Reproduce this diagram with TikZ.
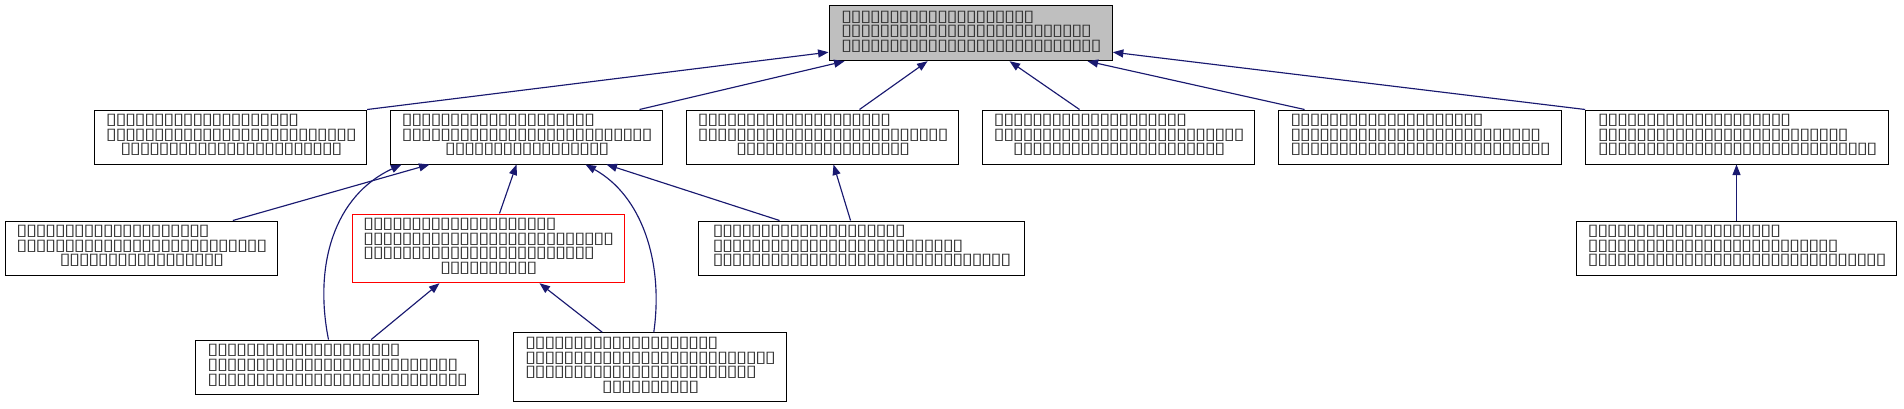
\documentclass[tikz,border=0pt]{standalone}
\usepackage{fontspec}
\usetikzlibrary{arrows.meta}
\newfontfamily\bxfont[FakeStretch=1.25]{DejaVu Sans}
\definecolor{edgec}{HTML}{191970}
\definecolor{topfill}{HTML}{BFBFBF}
\definecolor{glyphc}{HTML}{303030}
\newcount\bxcnt
\newcommand\bxr[1]{\bxcnt=#1\relax\bxloop}
\def\bxloop{\ifnum\bxcnt>0 \makebox[9.6pt][l]{\smash{▯}}\advance\bxcnt by -1 \expandafter\bxloop\fi}
\newcommand\bxc[1]{\multicolumn{1}{@{}c@{}}{\bxr{#1}}}
\newcommand\Lthree[3]{\begin{tabular}[b]{@{}l@{}}\bxr{#1}\\\bxr{#2}\\\bxr{#3}\end{tabular}}
\newcommand\Cthree[3]{\begin{tabular}[b]{@{}l@{}}\bxr{#1}\\\bxr{#2}\\\bxc{#3}\end{tabular}}
\newcommand\Cfour[4]{\begin{tabular}[b]{@{}l@{}}\bxr{#1}\\\bxr{#2}\\\bxr{#3}\\\bxc{#4}\end{tabular}}
\tikzset{
  nd/.style={draw=black, line width=1pt, inner sep=0pt, text depth=10.3pt, text=glyphc,
    font=\bxfont\fontsize{16}{14.7}\selectfont},
  edge/.style={draw=edgec, line width=1.15pt, -{Triangle[length=10.5pt,width=8pt]}, edgec}
}
\begin{document}
\begin{tikzpicture}[x=1pt,y=-1pt]
\useasboundingbox (0,0) rectangle (1904,408);
% top
\node[nd, fill=topfill, minimum width=283.3pt, text height=44.7pt] (T) at (970.7,33.2) {\Lthree{20}{26}{27}};
% row 2
\node[nd, minimum width=272pt, text height=43.7pt] (A) at (230.7,137) {\Cthree{20}{26}{23}};
\node[nd, minimum width=272.4pt, text height=43.7pt] (B) at (526.5,137) {\Cthree{20}{26}{17}};
\node[nd, minimum width=271.6pt, text height=43.7pt] (C) at (822.5,137) {\Cthree{20}{26}{18}};
\node[nd, minimum width=271.6pt, text height=43.7pt] (G) at (1118.5,137) {\Cthree{20}{26}{22}};
\node[nd, minimum width=282.3pt, text height=43.7pt] (H) at (1419.9,137) {\Lthree{20}{26}{27}};
\node[nd, minimum width=302.6pt, text height=43.7pt] (I) at (1737,137) {\Lthree{20}{26}{29}};
% row 3
\node[nd, minimum width=272.3pt, text height=43.7pt] (D) at (141.2,248) {\Cthree{20}{26}{17}};
\node[nd, draw=red, minimum width=272pt, text height=58.4pt] (E) at (488,248.35) {\Cfour{20}{26}{24}{10}};
\node[nd, minimum width=325.9pt, text height=43.7pt] (F) at (861.3,248) {\Lthree{20}{26}{31}};
\node[nd, minimum width=320pt, text height=43.7pt] (J) at (1736.5,248) {\Lthree{20}{26}{31}};
% row 4
\node[nd, minimum width=282.6pt, text height=44pt] (K) at (337,367.2) {\Lthree{20}{26}{27}};
\node[nd, minimum width=273.2pt, text height=58.7pt] (L) at (649.9,367.2) {\Cfour{20}{26}{24}{10}};
% edges to top
\draw[edge] (A.north east) -- ([yshift=9pt]T.south west);
\draw[edge] ([xshift=249.7pt]B.north west) -- ([xshift=16pt]T.south west);
\draw[edge] ([xshift=173.3pt]C.north west) -- ([xshift=99pt]T.south west);
\draw[edge] ([xshift=97.3pt]G.north west) -- ([xshift=181pt]T.south west);
\draw[edge] ([xshift=26.3pt]H.north west) -- ([xshift=259pt]T.south west);
\draw[edge] (I.north west) -- ([yshift=9pt]T.south east);
% row 3 -> row 2
\draw[edge] ([xshift=228.3pt]D.north west) -- ([xshift=39.7pt]B.south west);
\draw[edge] ([xshift=148pt]E.north west) -- ([xshift=126.7pt]B.south west);
\draw[edge] ([xshift=81.7pt]F.north west) -- ([xshift=216.7pt]B.south west);
\draw[edge] ([xshift=152.7pt]F.north west) -- ([xshift=147.3pt]C.south west);
\draw[edge] (J.north) -- (J.north |- I.south);
% row 4
\draw[edge] ([xshift=133.3pt]K.north west) .. controls +(-15,-75) and +(-67,31) .. ([xshift=11.7pt]B.south west);
\draw[edge] ([xshift=141pt]L.north west) .. controls +(10,-71) and +(56,31) .. ([xshift=195.7pt]B.south west);
\draw[edge] ([xshift=176pt]K.north west) -- ([xshift=88pt]E.south west);
\draw[edge] ([xshift=89.4pt]L.north west) -- ([xshift=188pt]E.south west);
\end{tikzpicture}
\end{document}
